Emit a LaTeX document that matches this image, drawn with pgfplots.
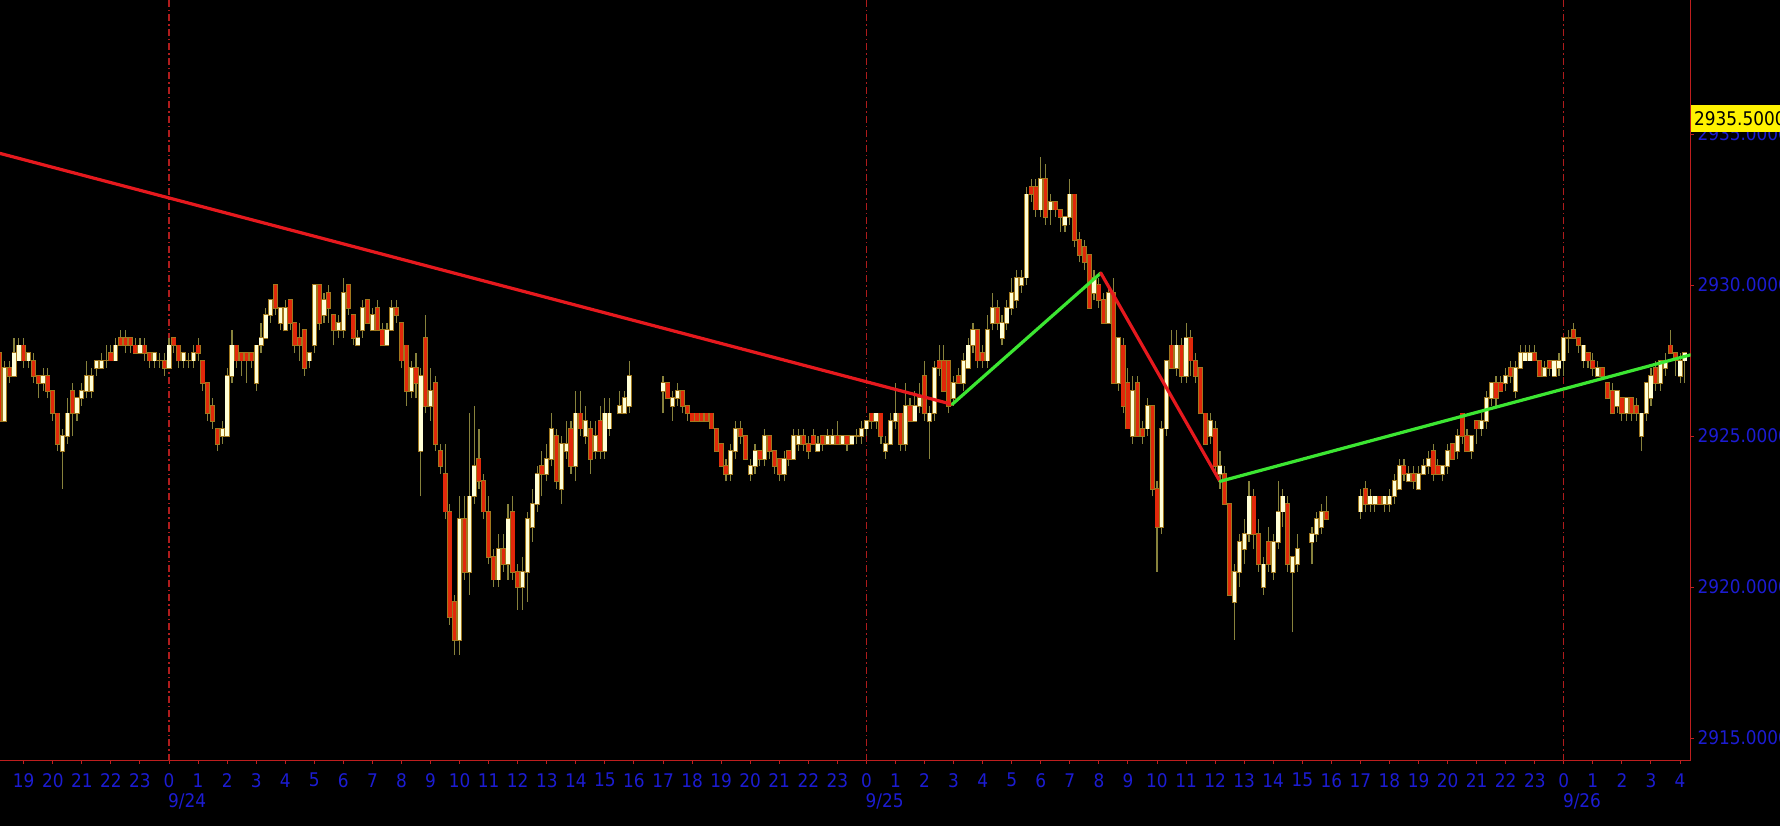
\documentclass[border=0pt]{standalone}
\usepackage{pgfplots}
\usepackage{pgfplotstable}
\pgfplotsset{compat=1.18}
\usepackage{fontspec}
\setmainfont{DejaVu Sans Condensed}

\definecolor{axisred}{RGB}{190,30,30}
\definecolor{gridred}{RGB}{175,28,28}
\definecolor{tickblue}{RGB}{28,28,210}
\definecolor{upfill}{RGB}{255,255,215}
\definecolor{downfill}{RGB}{225,40,10}
\definecolor{barline}{RGB}{160,120,30}
\definecolor{wickc}{RGB}{135,130,60}
\definecolor{trendred}{RGB}{230,25,30}
\definecolor{trendgreen}{RGB}{60,230,50}

% 10-minute bars, k = bar index from 9/24 0:00
\pgfplotstableread{
k o h l c
-34 2925.5 2927.5 2925.5 2927.25
-32 2927.0 2928.25 2927.0 2927.75
-31 2927.5 2928.25 2927.5 2928.0
-29 2927.5 2927.75 2927.25 2927.75
-26 2926.75 2927.25 2926.5 2927.0
-22 2924.5 2925.25 2923.25 2925.0
-21 2925.0 2926.25 2924.75 2925.75
-19 2925.75 2926.25 2925.5 2926.25
-18 2926.25 2926.75 2926.0 2926.5
-17 2926.5 2927.5 2926.25 2927.0
-16 2926.5 2927.25 2926.25 2927.0
-15 2927.25 2927.5 2927.0 2927.5
-14 2927.25 2927.75 2927.25 2927.5
-13 2927.5 2928.0 2927.25 2927.5
-11 2927.5 2928.25 2927.5 2928.0
-6 2927.75 2928.25 2927.75 2928.0
-3 2927.5 2927.75 2927.25 2927.75
-2 2927.5 2927.75 2927.25 2927.5
0 2927.25 2928.25 2927.25 2928.0
3 2927.5 2927.75 2927.25 2927.75
4 2927.5 2927.75 2927.25 2927.5
5 2927.5 2928.0 2927.25 2927.75
11 2925.0 2925.5 2924.75 2925.25
12 2925.0 2927.25 2925.0 2927.0
13 2927.0 2928.5 2926.75 2928.0
18 2926.75 2928.0 2926.5 2928.0
19 2928.0 2928.75 2927.75 2928.25
20 2928.25 2929.25 2928.25 2929.0
21 2929.0 2929.5 2928.75 2929.5
23 2928.75 2929.25 2928.5 2929.25
24 2928.5 2929.5 2928.5 2929.25
29 2927.5 2927.75 2927.25 2927.75
30 2928.0 2930.0 2927.75 2930.0
32 2929.0 2929.75 2928.75 2929.5
35 2928.5 2929.0 2928.25 2928.75
36 2928.5 2930.25 2928.25 2929.75
39 2928.0 2928.5 2928.0 2928.25
40 2928.5 2929.5 2928.25 2929.25
42 2928.5 2929.25 2928.5 2929.0
45 2928.0 2928.75 2928.0 2928.5
46 2928.5 2929.5 2928.5 2929.25
50 2926.5 2927.5 2926.25 2927.25
52 2924.5 2927.25 2923.0 2927.0
54 2926.0 2927.25 2925.5 2926.5
60 2918.25 2923.0 2917.75 2922.25
62 2920.5 2925.75 2919.75 2923.0
63 2923.0 2926.0 2922.75 2924.0
68 2920.25 2921.75 2920.0 2921.25
70 2920.75 2922.75 2920.25 2922.25
73 2920.0 2921.0 2919.25 2920.5
74 2920.5 2922.5 2919.5 2922.25
75 2922.0 2923.25 2921.5 2922.75
76 2922.75 2924.0 2922.5 2923.75
78 2923.75 2924.75 2923.5 2924.25
79 2924.25 2925.75 2924.0 2925.25
81 2923.25 2925.0 2922.75 2924.75
82 2924.5 2925.5 2924.25 2924.75
84 2924.0 2926.5 2923.5 2925.75
86 2925.0 2926.0 2924.75 2925.5
88 2924.5 2925.5 2924.25 2925.0
90 2924.5 2926.25 2924.25 2925.75
91 2925.25 2926.25 2925.0 2925.75
93 2925.75 2926.5 2925.75 2926.0
94 2925.75 2926.5 2925.75 2926.25
95 2926.0 2927.5 2925.75 2927.0
102 2926.5 2927.0 2925.75 2926.75
104 2926.0 2926.5 2925.5 2926.25
105 2926.25 2926.75 2926.0 2926.5
116 2923.75 2924.75 2923.5 2924.5
117 2924.5 2925.5 2924.25 2925.25
120 2923.75 2924.25 2923.5 2924.0
121 2924.0 2924.75 2923.75 2924.5
123 2924.25 2925.25 2924.0 2925.0
127 2923.75 2924.5 2923.5 2924.25
129 2924.25 2925.25 2924.25 2925.0
130 2924.75 2925.25 2924.5 2925.0
134 2924.5 2925.0 2924.5 2924.75
136 2924.75 2925.25 2924.75 2925.0
137 2924.75 2925.25 2924.75 2925.0
139 2924.75 2925.0 2924.75 2925.0
141 2924.75 2925.0 2924.75 2925.0
142 2925.0 2925.25 2924.75 2925.0
143 2925.0 2925.5 2924.75 2925.25
144 2925.25 2925.5 2925.0 2925.5
146 2925.5 2925.75 2925.25 2925.75
148 2924.5 2925.0 2924.25 2924.75
149 2924.75 2925.75 2924.75 2925.5
150 2925.5 2926.75 2925.25 2925.75
152 2924.75 2926.75 2924.5 2926.0
154 2925.5 2926.5 2925.5 2926.0
155 2926.0 2926.75 2925.75 2926.25
157 2925.5 2926.0 2924.25 2925.75
158 2925.75 2927.5 2925.5 2927.25
162 2926.25 2927.0 2926.0 2926.75
164 2926.75 2927.75 2926.5 2927.5
165 2927.25 2928.25 2927.25 2928.0
166 2928.0 2928.75 2927.75 2928.5
169 2927.5 2929.0 2927.25 2928.5
170 2928.75 2929.75 2928.5 2929.25
172 2928.25 2929.0 2928.0 2928.75
173 2928.75 2929.5 2928.5 2929.25
174 2929.25 2930.25 2929.0 2929.75
175 2929.5 2930.5 2929.25 2930.25
176 2930.0 2930.5 2929.75 2930.25
177 2930.25 2933.25 2930.0 2933.0
180 2932.5 2934.25 2932.25 2933.5
182 2932.5 2933.0 2932.0 2932.75
185 2932.0 2932.25 2931.75 2932.25
186 2932.25 2933.5 2932.0 2933.0
191 2929.75 2930.5 2929.5 2930.25
194 2928.75 2930.0 2928.75 2929.75
196 2926.75 2928.25 2926.5 2928.25
199 2925.0 2927.0 2924.75 2926.5
202 2925.25 2926.25 2925.0 2926.0
205 2922.0 2925.5 2921.75 2925.25
206 2925.25 2927.5 2925.0 2927.5
208 2927.25 2928.5 2927.0 2928.0
210 2927.0 2928.75 2926.75 2928.25
215 2925.0 2925.75 2924.75 2925.5
217 2923.75 2924.5 2923.25 2924.0
220 2919.5 2920.75 2918.25 2920.5
221 2920.5 2921.75 2920.0 2921.5
222 2921.25 2922.25 2920.75 2921.75
223 2921.75 2923.5 2921.5 2923.0
226 2920.0 2921.0 2919.75 2920.75
228 2920.5 2921.75 2920.25 2921.5
229 2921.5 2923.5 2921.25 2922.5
230 2922.5 2923.25 2922.0 2923.0
232 2920.5 2921.0 2918.5 2921.0
233 2920.75 2921.75 2920.5 2921.25
236 2921.5 2922.0 2920.75 2921.75
237 2921.75 2922.5 2921.5 2922.25
238 2922.0 2922.75 2921.75 2922.5
246 2922.5 2923.25 2922.25 2923.0
248 2922.75 2923.25 2922.5 2923.0
249 2922.75 2923.0 2922.5 2923.0
251 2922.75 2923.0 2922.5 2923.0
252 2922.75 2923.25 2922.5 2923.0
253 2923.0 2923.75 2922.75 2923.5
254 2923.25 2924.25 2923.25 2924.0
256 2923.5 2924.0 2923.5 2923.75
258 2923.25 2924.0 2923.25 2923.75
259 2923.75 2924.25 2923.75 2924.0
260 2924.0 2924.5 2923.75 2924.25
263 2923.75 2924.0 2923.5 2924.0
264 2924.0 2924.75 2923.75 2924.5
266 2924.5 2925.25 2924.25 2925.0
269 2924.5 2925.0 2924.25 2925.0
271 2925.25 2925.75 2925.0 2925.5
272 2925.5 2926.5 2925.25 2926.25
273 2926.25 2926.75 2926.0 2926.75
276 2926.75 2927.25 2926.5 2927.0
278 2926.5 2927.5 2926.25 2927.25
279 2927.25 2928.0 2927.25 2927.75
280 2927.5 2928.0 2927.5 2927.75
281 2927.5 2928.0 2927.5 2927.75
284 2927.0 2927.5 2927.0 2927.25
286 2927.0 2927.5 2927.0 2927.5
287 2927.25 2927.75 2927.0 2927.5
288 2927.5 2928.25 2927.0 2928.25
289 2928.25 2928.5 2927.75 2928.25
292 2927.5 2928.0 2927.25 2928.0
295 2927.0 2927.5 2927.0 2927.25
299 2926.0 2926.5 2925.75 2926.5
301 2925.75 2926.25 2925.5 2926.25
304 2925.0 2925.75 2924.5 2925.75
305 2925.75 2926.75 2925.5 2926.75
306 2926.25 2927.25 2926.0 2927.0
308 2926.75 2927.5 2926.5 2927.5
309 2927.25 2927.75 2927.0 2927.5
312 2927.0 2927.75 2926.75 2927.5
313 2927.5 2927.75 2926.75 2927.75
}\upbars

\pgfplotstableread{
k o h l c
-35 2927.75 2928.0 2925.25 2925.5
-33 2927.25 2927.5 2926.75 2927.0
-30 2928.0 2928.25 2927.25 2927.5
-28 2927.5 2927.75 2926.75 2927.0
-27 2927.0 2927.0 2926.25 2926.75
-25 2927.0 2927.25 2926.25 2926.5
-24 2926.5 2926.5 2925.5 2925.75
-23 2925.75 2925.75 2924.5 2924.75
-20 2926.5 2926.75 2925.0 2925.75
-12 2927.75 2928.0 2927.5 2927.5
-10 2928.25 2928.5 2928.0 2928.0
-9 2928.25 2928.5 2927.75 2928.0
-8 2928.25 2928.25 2927.75 2928.0
-7 2928.0 2928.25 2927.75 2927.75
-5 2928.0 2928.25 2927.5 2927.75
-4 2927.75 2927.75 2927.25 2927.5
-1 2927.5 2927.75 2927.0 2927.25
1 2928.25 2928.25 2927.75 2928.0
2 2928.0 2928.0 2927.25 2927.5
6 2928.0 2928.25 2927.5 2927.75
7 2927.5 2927.5 2926.5 2926.75
8 2926.75 2926.75 2925.5 2925.75
9 2926.0 2926.25 2925.25 2925.5
10 2925.25 2925.25 2924.5 2924.75
14 2928.0 2928.0 2927.25 2927.5
15 2927.75 2927.75 2927.0 2927.5
16 2927.75 2927.75 2926.75 2927.5
17 2927.75 2927.75 2927.25 2927.5
22 2930.0 2930.0 2929.0 2929.25
25 2929.5 2929.5 2928.5 2928.75
26 2928.75 2928.75 2927.75 2928.0
27 2928.25 2928.75 2927.5 2928.0
28 2928.5 2928.5 2927.0 2927.25
31 2930.0 2930.0 2928.5 2928.75
33 2929.75 2930.0 2928.75 2929.25
34 2929.0 2929.0 2928.0 2928.5
37 2930.0 2930.0 2929.0 2929.25
38 2929.0 2929.0 2928.0 2928.25
41 2929.5 2929.5 2928.75 2928.75
43 2929.25 2929.5 2928.5 2928.5
44 2928.5 2928.75 2928.0 2928.0
47 2929.25 2929.5 2928.75 2929.0
48 2928.75 2928.75 2927.25 2927.5
49 2928.0 2928.0 2926.0 2926.5
51 2927.25 2927.75 2926.25 2926.75
53 2928.25 2929.0 2925.75 2926.0
55 2926.75 2927.0 2924.5 2924.75
56 2924.5 2924.75 2923.75 2924.0
57 2923.75 2924.75 2922.25 2922.5
58 2922.5 2922.75 2918.75 2919.0
59 2919.5 2919.75 2917.75 2918.25
61 2922.25 2923.0 2920.25 2920.5
64 2924.25 2925.25 2923.25 2923.5
65 2923.5 2923.75 2922.25 2922.5
66 2922.5 2923.0 2920.75 2921.0
67 2921.0 2921.25 2920.0 2920.25
69 2921.25 2921.75 2920.5 2920.75
71 2922.5 2923.0 2920.25 2920.5
72 2920.5 2920.75 2919.25 2920.0
77 2924.0 2924.5 2923.0 2923.75
80 2925.0 2925.25 2923.25 2923.5
83 2925.25 2925.5 2923.75 2924.0
85 2925.75 2926.5 2925.0 2925.25
87 2925.25 2925.5 2923.75 2924.25
89 2925.5 2926.0 2924.25 2924.5
103 2926.75 2926.75 2926.25 2926.25
106 2926.5 2926.5 2925.75 2926.0
107 2926.0 2926.0 2925.5 2925.75
108 2925.75 2925.75 2925.5 2925.5
109 2925.75 2925.75 2925.5 2925.5
110 2925.75 2925.75 2925.5 2925.5
111 2925.75 2925.75 2925.5 2925.5
112 2925.75 2925.75 2925.25 2925.25
113 2925.25 2925.25 2924.5 2924.5
114 2924.75 2924.75 2924.0 2924.0
115 2924.0 2924.25 2923.5 2923.75
118 2925.25 2925.5 2924.75 2925.0
119 2925.0 2925.0 2924.25 2924.25
122 2924.5 2924.5 2924.0 2924.25
124 2925.0 2925.0 2924.25 2924.5
125 2924.5 2924.5 2923.75 2924.0
126 2924.25 2924.25 2923.5 2923.75
128 2924.5 2924.5 2924.0 2924.25
131 2925.0 2925.25 2924.5 2924.75
132 2924.75 2925.0 2924.25 2924.5
133 2925.0 2925.25 2924.75 2924.75
135 2925.0 2925.0 2924.5 2924.75
138 2925.0 2925.5 2924.75 2924.75
140 2925.0 2925.0 2924.5 2924.75
145 2925.75 2925.75 2925.25 2925.5
147 2925.75 2925.75 2924.75 2925.0
151 2925.75 2925.75 2924.5 2924.75
153 2926.0 2926.25 2925.5 2925.5
156 2927.0 2927.5 2925.5 2925.75
159 2927.5 2928.0 2927.0 2927.25
160 2927.5 2928.0 2926.5 2926.5
161 2927.5 2927.5 2925.75 2926.0
163 2927.0 2927.25 2926.75 2926.75
167 2928.5 2928.5 2927.25 2927.5
168 2927.75 2928.0 2927.25 2927.5
171 2929.25 2929.5 2928.5 2928.75
178 2933.25 2933.5 2932.75 2933.0
179 2933.25 2933.5 2932.25 2932.5
181 2933.5 2934.0 2932.0 2932.25
183 2932.75 2932.75 2932.25 2932.5
184 2932.5 2932.5 2931.75 2932.25
187 2933.0 2933.0 2931.25 2931.5
188 2931.5 2931.75 2930.75 2931.0
189 2931.25 2931.5 2930.5 2930.75
190 2931.0 2931.0 2929.25 2929.25
192 2930.0 2930.25 2929.25 2929.5
193 2929.5 2929.75 2928.75 2928.75
195 2929.75 2930.25 2926.75 2926.75
197 2928.0 2928.25 2925.75 2926.0
198 2926.75 2927.25 2925.25 2925.25
200 2926.75 2927.0 2925.0 2925.0
201 2925.25 2925.5 2924.75 2925.0
203 2926.0 2926.0 2923.0 2923.25
204 2923.25 2923.5 2920.5 2922.0
207 2928.0 2928.5 2927.25 2927.25
209 2928.0 2928.25 2926.75 2927.0
211 2928.25 2928.5 2927.0 2927.5
212 2927.5 2927.75 2926.75 2927.0
213 2927.25 2927.25 2925.75 2925.75
214 2925.75 2925.75 2924.75 2924.75
216 2925.25 2925.5 2923.75 2924.0
218 2923.75 2924.0 2922.75 2922.75
219 2922.75 2922.75 2919.75 2919.75
224 2923.0 2923.25 2921.25 2921.75
225 2921.75 2922.25 2920.5 2920.75
227 2921.5 2922.0 2920.5 2920.75
231 2922.75 2923.0 2920.5 2920.75
239 2922.5 2923.0 2922.25 2922.25
247 2923.25 2923.5 2922.5 2922.75
250 2923.0 2923.0 2922.75 2922.75
255 2924.0 2924.25 2923.5 2923.75
257 2923.75 2924.0 2923.25 2923.5
261 2924.5 2924.75 2923.5 2923.75
262 2924.0 2924.25 2923.75 2923.75
265 2924.75 2924.75 2924.25 2924.25
267 2925.75 2925.75 2924.75 2925.0
268 2925.0 2925.25 2924.5 2924.5
270 2925.5 2925.5 2924.75 2925.25
274 2926.75 2927.0 2926.0 2926.25
275 2926.75 2927.0 2926.5 2926.5
277 2927.25 2927.5 2926.75 2927.0
282 2927.75 2928.0 2927.5 2927.5
283 2927.5 2927.5 2927.0 2927.0
285 2927.5 2927.5 2927.0 2927.25
290 2928.5 2928.75 2928.25 2928.25
291 2928.25 2928.25 2927.75 2928.0
293 2927.75 2927.75 2927.25 2927.5
294 2927.5 2927.75 2927.0 2927.25
296 2927.25 2927.25 2927.0 2927.0
297 2926.75 2926.75 2926.25 2926.25
298 2926.5 2926.75 2925.75 2925.75
300 2926.25 2926.25 2925.5 2925.75
302 2926.25 2926.25 2925.5 2925.75
303 2926.0 2926.25 2925.5 2925.75
307 2927.25 2927.5 2926.5 2926.75
310 2928.0 2928.5 2927.75 2927.75
311 2927.75 2927.75 2927.0 2927.5
}\downbars

\begin{document}
\begin{tikzpicture}
\fill[black] (0,0) rectangle (1780bp,826bp);
\useasboundingbox (0,0) rectangle (1780bp,826bp);
\clip (0,0) rectangle (1780bp,826bp);
\begin{axis}[
    at={(0bp,65.3bp)}, anchor=south west,
    scale only axis, width=1690.7bp, height=760.7bp,
    xmin=-34.9, xmax=314.2,
    ymin=2914.25, ymax=2939.44,
    axis x line*=bottom, axis y line*=right,
    axis line style={draw=axisred, line width=1.3bp, -},
    xtick={-30,-24,...,312},
    xticklabels={19,20,21,22,23,0,1,2,3,4,5,6,7,8,9,10,11,12,13,14,15,16,17,18,19,20,21,22,23,0,1,2,3,4,5,6,7,8,9,10,11,12,13,14,15,16,17,18,19,20,21,22,23,0,1,2,3,4},
    ytick={2915,2920,...,2935},
    tick align=outside, major tick length=3bp,
    tick style={draw=axisred, line width=1bp},
    extra x ticks={0,144,288}, extra x tick labels={},
    extra x tick style={grid=major, major grid style={draw=gridred, line width=1.3bp, dash pattern=on 7bp off 3bp on 1.5bp off 3bp}},
    /pgf/number format/assume math mode=true,
    ticklabel style={font=\fontsize{18.8bp}{21bp}\selectfont, text=tickblue},
    xticklabel style={anchor=center, yshift=-16.5bp},
    yticklabel style={anchor=west, inner sep=0pt, xshift=3.6bp,
        /pgf/number format/.cd, fixed, fixed zerofill, precision=4, 1000 sep={}},
]
% wicks
\addplot[forget plot, draw=none, error bars/.cd, y dir=plus, y explicit, error mark=none,
    error bar style={draw=wickc, line width=1.1bp, solid}]
    table[x=k, y=l, y error plus expr=\thisrow{h}-\thisrow{l}] {\upbars};
\addplot[forget plot, draw=none, error bars/.cd, y dir=plus, y explicit, error mark=none,
    error bar style={draw=wickc, line width=1.1bp, solid}]
    table[x=k, y=l, y error plus expr=\thisrow{h}-\thisrow{l}] {\downbars};
% body outlines
\addplot[forget plot, draw=none, error bars/.cd, y dir=plus, y explicit, error mark=none,
    error bar style={draw=barline, line width=5bp, solid}]
    table[x=k, y expr=\thisrow{o}-0.03, y error plus expr=\thisrow{c}-\thisrow{o}+0.06] {\upbars};
\addplot[forget plot, draw=none, error bars/.cd, y dir=plus, y explicit, error mark=none,
    error bar style={draw=barline, line width=5bp, solid}]
    table[x=k, y expr=\thisrow{c}-0.03, y error plus expr=\thisrow{o}-\thisrow{c}+0.06] {\downbars};
% body fills
\addplot[forget plot, draw=none, error bars/.cd, y dir=plus, y explicit, error mark=none,
    error bar style={draw=upfill, line width=3.3bp, solid}]
    table[x=k, y=o, y error plus expr=\thisrow{c}-\thisrow{o}] {\upbars};
\addplot[forget plot, draw=none, error bars/.cd, y dir=plus, y explicit, error mark=none,
    error bar style={draw=downfill, line width=3.3bp, solid}]
    table[x=k, y=c, y error plus expr=\thisrow{o}-\thisrow{c}] {\downbars};
% trend lines
\addplot[trendred, line width=3.2bp, line cap=round] coordinates {(-34.9,2934.36) (161.7,2926.05)};
\addplot[trendgreen, line width=3.2bp, line cap=round] coordinates {(161.7,2926.05) (192.4,2930.4)};
\addplot[trendred, line width=3.2bp, line cap=round] coordinates {(192.4,2930.4) (217.0,2923.5)};
\addplot[trendgreen, line width=3.2bp, line cap=round] coordinates {(217.0,2923.5) (314.2,2927.69)};
\coordinate (d0) at (axis cs:0,2914.25);
\coordinate (d1) at (axis cs:144,2914.25);
\coordinate (d2) at (axis cs:288,2914.25);
\coordinate (yb) at (axis cs:314.2,2935.5);
\end{axis}
\foreach \p/\t in {d0/9\slash 24, d1/9\slash 25, d2/9\slash 26}
  \node[anchor=west, inner sep=0pt, text=tickblue, font=\fontsize{18.8bp}{21bp}\selectfont]
    at ([xshift=-1bp, yshift=-41bp]\p) {\t};
\node[anchor=west, fill=yellow, inner xsep=3.3bp, inner ysep=0pt, minimum height=27bp,
    text=black, font=\fontsize{18.8bp}{21bp}\selectfont] at (yb) {2935.5000};
\end{tikzpicture}
\end{document}
